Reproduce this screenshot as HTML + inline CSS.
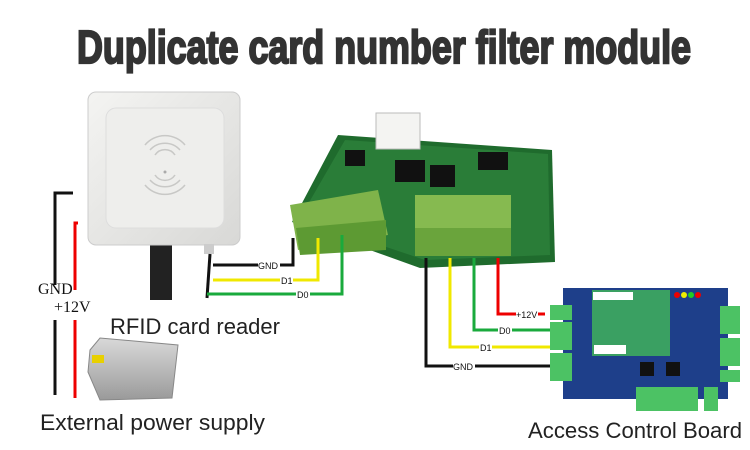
<!DOCTYPE html>
<html><head><meta charset="utf-8"><style>
html,body{margin:0;padding:0;background:#fff;width:750px;height:450px;overflow:hidden}
svg{display:block}
</style></head><body>
<svg width="750" height="450" viewBox="0 0 750 450" xmlns="http://www.w3.org/2000/svg">
<defs>
<linearGradient id="rd" x1="0" y1="0" x2="1" y2="1"><stop offset="0" stop-color="#f4f4f2"/><stop offset="1" stop-color="#d8d8d6"/></linearGradient>
<linearGradient id="ps" x1="0" y1="0" x2="0" y2="1"><stop offset="0" stop-color="#d9d9d9"/><stop offset="1" stop-color="#9a9a9a"/></linearGradient>
</defs>
<text x="77" y="63" font-family="'Liberation Sans Narrow','Liberation Sans',sans-serif" font-weight="bold" font-size="46" fill="#333" stroke="#333" stroke-width="2.2" textLength="614" lengthAdjust="spacingAndGlyphs">Duplicate card number filter module</text>

<!-- reader -->
<rect x="150" y="240" width="22" height="60" fill="#222"/>
<rect x="88" y="92" width="152" height="153" rx="8" fill="url(#rd)" stroke="#ccc"/>
<rect x="106" y="108" width="118" height="120" rx="10" fill="#eeeeec" stroke="#ddd"/>
<g fill="none" stroke="#c8c8c6" stroke-width="1.5">
<path d="M150 150 A20 20 0 0 1 180 150"/><path d="M145 145 A26 26 0 0 1 185 145"/><path d="M155 155 A12 12 0 0 1 175 155"/>
<path d="M150 180 A20 20 0 0 0 180 180"/><path d="M145 185 A26 26 0 0 0 185 185"/><path d="M155 175 A12 12 0 0 0 175 175"/>
</g>
<circle cx="165" cy="172" r="1.5" fill="#aaa"/>
<rect x="204" y="244" width="10" height="10" fill="#ccc"/>
<path d="M210 254 L207 298" stroke="#111" stroke-width="3"/>

<!-- module -->
<polygon points="338,135 552,150 555,262 420,268 292,222" fill="#1f6b2d"/>
<polygon points="345,140 548,154 550,255 425,260 300,218" fill="#2a7d38"/>
<rect x="376" y="113" width="44" height="36" fill="#f4f4f2" stroke="#bbb"/>
<rect x="395" y="160" width="30" height="22" fill="#111"/>
<rect x="430" y="165" width="25" height="22" fill="#111"/>
<rect x="478" y="152" width="30" height="18" fill="#111"/>
<rect x="345" y="150" width="20" height="16" fill="#111"/>
<polygon points="290,205 378,190 388,235 298,250" fill="#7fb34a"/>
<polygon points="296,228 386,220 386,250 300,255" fill="#5d9a33"/>
<rect x="415" y="195" width="96" height="38" fill="#86ba50"/>
<rect x="415" y="228" width="96" height="28" fill="#6aa43c"/>

<!-- left wires -->
<polyline points="213,265 293,265 293,238" fill="none" stroke="#111" stroke-width="3"/>
<polyline points="213,280 318,280 318,238" fill="none" stroke="#f0e800" stroke-width="3"/>
<polyline points="207,294 342,294 342,235" fill="none" stroke="#1aaa3c" stroke-width="3"/>
<g font-family="'Liberation Sans',sans-serif" font-size="9" fill="#111">
<rect x="258" y="260" width="22" height="10" fill="#fff"/><text x="258" y="269">GND</text>
<rect x="280" y="275" width="13" height="10" fill="#fff"/><text x="281" y="284">D1</text>
<rect x="296" y="289" width="14" height="10" fill="#fff"/><text x="297" y="298">D0</text>
</g>

<!-- power -->
<polyline points="73,193 55,193 55,285" fill="none" stroke="#111" stroke-width="3"/>
<line x1="55" y1="320" x2="55" y2="395" stroke="#111" stroke-width="3"/>
<polyline points="78,223 75,223 75,290" fill="none" stroke="#e00" stroke-width="3"/>
<line x1="75" y1="320" x2="75" y2="398" stroke="#e00" stroke-width="3"/>
<text x="38" y="294" font-family="'Liberation Serif',serif" font-size="16" fill="#111">GND</text>
<text x="54" y="312" font-family="'Liberation Serif',serif" font-size="16" fill="#111">+12V</text>
<polygon points="90,350 100,338 178,345 172,398 100,400 88,372" fill="url(#ps)" stroke="#888"/>
<rect x="92" y="355" width="12" height="8" fill="#e8d000"/>
<text x="110" y="334" font-family="'Liberation Sans',sans-serif" font-size="22" fill="#222" textLength="170" lengthAdjust="spacingAndGlyphs">RFID card reader</text>
<text x="40" y="430" font-family="'Liberation Sans',sans-serif" font-size="22" fill="#222" textLength="225" lengthAdjust="spacingAndGlyphs">External power supply</text>

<!-- right wires -->
<polyline points="426,258 426,366 550,366" fill="none" stroke="#111" stroke-width="3"/>
<polyline points="450,258 450,347 550,347" fill="none" stroke="#f0e800" stroke-width="3"/>
<polyline points="474,258 474,330 550,330" fill="none" stroke="#1aaa3c" stroke-width="3"/>
<polyline points="498,258 498,314 545,314" fill="none" stroke="#e00" stroke-width="3"/>
<g font-family="'Liberation Sans',sans-serif" font-size="9" fill="#111">
<rect x="516" y="309" width="22" height="10" fill="#fff"/><text x="516" y="318">+12V</text>
<rect x="498" y="325" width="14" height="10" fill="#fff"/><text x="499" y="334">D0</text>
<rect x="479" y="342" width="13" height="10" fill="#fff"/><text x="480" y="351">D1</text>
<rect x="453" y="361" width="22" height="10" fill="#fff"/><text x="453" y="370">GND</text>
</g>

<!-- access board -->
<rect x="563" y="288" width="165" height="111" fill="#1e3f8a"/>
<rect x="592" y="290" width="78" height="66" fill="#3aa062"/>
<rect x="593" y="292" width="40" height="8" fill="#fff"/>
<rect x="594" y="345" width="32" height="9" fill="#fff"/>
<rect x="550" y="305" width="22" height="15" fill="#4cc264"/>
<rect x="550" y="322" width="22" height="28" fill="#4cc264"/>
<rect x="550" y="353" width="22" height="28" fill="#4cc264"/>
<rect x="720" y="306" width="20" height="28" fill="#4cc264"/>
<rect x="720" y="338" width="20" height="28" fill="#4cc264"/>
<rect x="720" y="370" width="20" height="12" fill="#4cc264"/>
<rect x="636" y="387" width="62" height="24" fill="#4cc264"/>
<rect x="704" y="387" width="14" height="24" fill="#4cc264"/>
<rect x="640" y="362" width="14" height="14" fill="#111"/>
<rect x="666" y="362" width="14" height="14" fill="#111"/>
<circle cx="677" cy="295" r="3" fill="#e00"/><circle cx="684" cy="295" r="3" fill="#ee0"/><circle cx="691" cy="295" r="3" fill="#2c2"/><circle cx="698" cy="295" r="3" fill="#e00"/>
<text x="528" y="438" font-family="'Liberation Sans',sans-serif" font-size="22" fill="#222" textLength="214" lengthAdjust="spacingAndGlyphs">Access Control Board</text>
</svg>
</body></html>
